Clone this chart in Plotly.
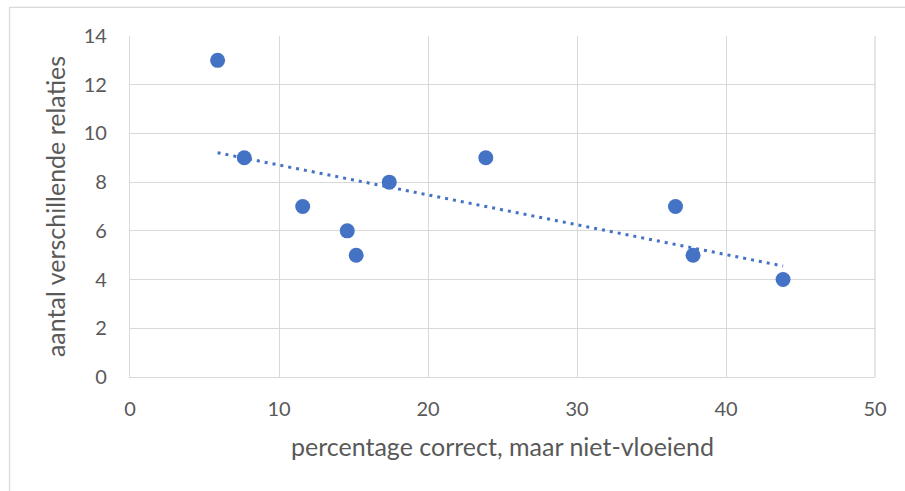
import numpy as np
import plotly.graph_objects as go

# Percentage correct but not fluent vs. number of distinct relations
pct_correct_niet_vloeiend = [5.88, 7.67, 11.59, 14.58, 15.18, 17.40, 23.88, 36.61, 37.79, 43.83]
aantal_relaties = [13, 9, 7, 6, 5, 8, 9, 7, 5, 4]

x_ticks = [0, 10, 20, 30, 40, 50]
y_ticks = [0, 2, 4, 6, 8, 10, 12, 14]

x_title = "percentage correct, maar niet-vloeiend"
y_title = "aantal verschillende relaties"

BLUE = "#4472C4"
GRID = "#d9d9d9"
TEXT = "#595959"
FONT = "Lato, 'Open Sans', sans-serif"

# Linear trendline (least squares) over the data range
slope, intercept = np.polyfit(pct_correct_niet_vloeiend, aantal_relaties, 1)
trend_x = np.array([min(pct_correct_niet_vloeiend), max(pct_correct_niet_vloeiend)])
trend_y = slope * trend_x + intercept

fig = go.Figure()
fig.add_trace(go.Scatter(
    x=trend_x, y=trend_y, mode="lines",
    line=dict(color=BLUE, width=3, dash="3px,5px"),
    showlegend=False, hoverinfo="skip",
))
fig.add_trace(go.Scatter(
    x=pct_correct_niet_vloeiend, y=aantal_relaties, mode="markers",
    marker=dict(color=BLUE, size=15, line=dict(width=0)),
    showlegend=False,
))

W, H = 905, 491
ml, mr, mt, mb = 130, 29.7, 36, 114.3
pw, ph = W - ml - mr, H - mt - mb

def px_to_paper_x(px):
    return (px - ml) / pw

def px_to_paper_y(py):
    return (H - mb - py) / ph

fig.update_layout(
    width=W, height=H,
    margin=dict(l=ml, r=mr, t=mt, b=mb, pad=0),
    paper_bgcolor="white", plot_bgcolor="white",
    font=dict(family=FONT, color=TEXT, size=20),
    xaxis=dict(
        range=[0, 50], tickvals=x_ticks, ticktext=[str(v) for v in x_ticks],
        showgrid=True, gridcolor=GRID, gridwidth=1.3,
        showline=True, linecolor=GRID, linewidth=1.3, mirror=False,
        zeroline=False, ticks="", ticklabelstandoff=14,
        title=dict(text=x_title, standoff=19, font=dict(size=25, color=TEXT)),
        tickfont=dict(size=20, color=TEXT),
    ),
    yaxis=dict(
        range=[0, 14], tickvals=y_ticks, ticktext=[str(v) for v in y_ticks],
        showgrid=True, gridcolor=GRID, gridwidth=1.3,
        showline=True, linecolor=GRID, linewidth=1.3,
        zeroline=False, ticks="", ticklabelstandoff=18,
        title=dict(text=y_title, standoff=10, font=dict(size=25, color=TEXT)),
        tickfont=dict(size=20, color=TEXT),
    ),
    shapes=[
        # outer chart frame
        dict(type="rect", xref="paper", yref="paper",
             x0=px_to_paper_x(9.5), x1=px_to_paper_x(915),
             y0=px_to_paper_y(500), y1=px_to_paper_y(7.5),
             line=dict(color=GRID, width=1.3), fillcolor="rgba(0,0,0,0)",
             layer="below"),
        # right edge of plot area
        dict(type="line", xref="paper", yref="paper", x0=1, x1=1, y0=0, y1=1,
             line=dict(color=GRID, width=1.3), layer="below"),
    ],
)

fig.write_html("out.html")
